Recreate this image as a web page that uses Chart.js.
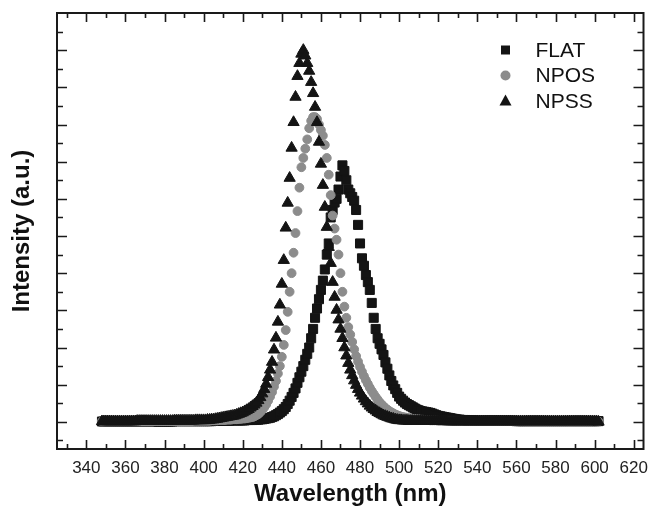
<!DOCTYPE html>
<html>
<head>
<meta charset="utf-8">
<script src="https://cdn.jsdelivr.net/npm/chart.js@4.4.1/dist/chart.umd.min.js"></script>
<style>
  body { margin: 0; background: #fff; }
  #spectra { display: block; }
</style>
</head>
<body>
<canvas id="spectra" width="651" height="513"></canvas>
<script>
// wavelength grid (nm), one point per nm
const wavelength = [
  348, 349,
  350, 351, 352, 353, 354, 355, 356, 357, 358, 359,
  360, 361, 362, 363, 364, 365, 366, 367, 368, 369,
  370, 371, 372, 373, 374, 375, 376, 377, 378, 379,
  380, 381, 382, 383, 384, 385, 386, 387, 388, 389,
  390, 391, 392, 393, 394, 395, 396, 397, 398, 399,
  400, 401, 402, 403, 404, 405, 406, 407, 408, 409,
  410, 411, 412, 413, 414, 415, 416, 417, 418, 419,
  420, 421, 422, 423, 424, 425, 426, 427, 428, 429,
  430, 431, 432, 433, 434, 435, 436, 437, 438, 439,
  440, 441, 442, 443, 444, 445, 446, 447, 448, 449,
  450, 451, 452, 453, 454, 455, 456, 457, 458, 459,
  460, 461, 462, 463, 464, 465, 466, 467, 468, 469,
  470, 471, 472, 473, 474, 475, 476, 477, 478, 479,
  480, 481, 482, 483, 484, 485, 486, 487, 488, 489,
  490, 491, 492, 493, 494, 495, 496, 497, 498, 499,
  500, 501, 502, 503, 504, 505, 506, 507, 508, 509,
  510, 511, 512, 513, 514, 515, 516, 517, 518, 519,
  520, 521, 522, 523, 524, 525, 526, 527, 528, 529,
  530, 531, 532, 533, 534, 535, 536, 537, 538, 539,
  540, 541, 542, 543, 544, 545, 546, 547, 548, 549,
  550, 551, 552, 553, 554, 555, 556, 557, 558, 559,
  560, 561, 562, 563, 564, 565, 566, 567, 568, 569,
  570, 571, 572, 573, 574, 575, 576, 577, 578, 579,
  580, 581, 582, 583, 584, 585, 586, 587, 588, 589,
  590, 591, 592, 593, 594, 595, 596, 597, 598, 599,
  600, 601, 602
]

const flat = [
  0.001, 0.001,
  0.001, 0.001, 0.001, 0.001, 0.001, 0.001, 0.001, 0.001, 0.001, 0.001,
  0.001, 0.001, 0.001, 0.001, 0.001, 0.001, 0.001, 0.001, 0.001, 0.001,
  0.001, 0.001, 0.001, 0.001, 0.001, 0.001, 0.001, 0.001, 0.001, 0.001,
  0.001, 0.001, 0.001, 0.001, 0.001, 0.002, 0.002, 0.002, 0.002, 0.002,
  0.002, 0.002, 0.002, 0.002, 0.002, 0.002, 0.002, 0.002, 0.002, 0.002,
  0.002, 0.002, 0.002, 0.002, 0.002, 0.003, 0.003, 0.003, 0.003, 0.003,
  0.003, 0.003, 0.003, 0.003, 0.004, 0.004, 0.004, 0.004, 0.004, 0.004,
  0.004, 0.004, 0.005, 0.005, 0.005, 0.005, 0.006, 0.006, 0.006, 0.007,
  0.007, 0.008, 0.009, 0.010, 0.011, 0.013, 0.015, 0.018, 0.021, 0.025,
  0.029, 0.034, 0.040, 0.048, 0.057, 0.067, 0.078, 0.090, 0.105, 0.120,
  0.135, 0.150, 0.167, 0.183, 0.200, 0.225, 0.250, 0.280, 0.305, 0.330,
  0.355, 0.380, 0.410, 0.450, 0.480, 0.550, 0.570, 0.590, 0.600, 0.625,
  0.660, 0.690, 0.675, 0.650, 0.625, 0.615, 0.605, 0.595, 0.570, 0.530,
  0.480, 0.440, 0.420, 0.395, 0.376, 0.355, 0.320, 0.280, 0.250, 0.225,
  0.210, 0.195, 0.180, 0.160, 0.143, 0.125, 0.110, 0.098, 0.088, 0.078,
  0.068, 0.062, 0.057, 0.052, 0.048, 0.045, 0.042, 0.039, 0.036, 0.033,
  0.031, 0.029, 0.028, 0.027, 0.026, 0.025, 0.024, 0.022, 0.020, 0.018,
  0.016, 0.015, 0.014, 0.013, 0.012, 0.011, 0.010, 0.009, 0.008, 0.007,
  0.006, 0.006, 0.005, 0.005, 0.005, 0.004, 0.004, 0.004, 0.004, 0.003,
  0.003, 0.003, 0.003, 0.003, 0.003, 0.003, 0.003, 0.003, 0.003, 0.003,
  0.003, 0.003, 0.003, 0.003, 0.003, 0.003, 0.003, 0.003, 0.003, 0.003,
  0.002, 0.002, 0.002, 0.002, 0.002, 0.002, 0.002, 0.002, 0.002, 0.002,
  0.002, 0.002, 0.002, 0.002, 0.002, 0.002, 0.002, 0.002, 0.002, 0.002,
  0.002, 0.002, 0.002, 0.002, 0.002, 0.002, 0.002, 0.002, 0.002, 0.002,
  0.002, 0.002, 0.002, 0.002, 0.002, 0.002, 0.002, 0.002, 0.002, 0.002,
  0.002, 0.002, 0.002
]

const npos = [
  0.001, 0.001,
  0.001, 0.001, 0.001, 0.001, 0.001, 0.001, 0.001, 0.001, 0.001, 0.001,
  0.001, 0.001, 0.001, 0.001, 0.001, 0.001, 0.001, 0.001, 0.001, 0.001,
  0.001, 0.001, 0.001, 0.001, 0.001, 0.002, 0.002, 0.002, 0.002, 0.002,
  0.002, 0.002, 0.002, 0.002, 0.002, 0.002, 0.002, 0.002, 0.002, 0.002,
  0.002, 0.002, 0.002, 0.002, 0.002, 0.003, 0.003, 0.003, 0.003, 0.003,
  0.003, 0.003, 0.003, 0.003, 0.004, 0.004, 0.004, 0.004, 0.005, 0.005,
  0.005, 0.005, 0.006, 0.006, 0.006, 0.007, 0.007, 0.007, 0.008, 0.008,
  0.009, 0.009, 0.010, 0.011, 0.012, 0.013, 0.015, 0.018, 0.021, 0.026,
  0.032, 0.039, 0.047, 0.057, 0.068, 0.080, 0.095, 0.110, 0.130, 0.150,
  0.175, 0.207, 0.247, 0.296, 0.350, 0.400, 0.455, 0.508, 0.567, 0.630,
  0.685, 0.710, 0.735, 0.760, 0.790, 0.810, 0.820, 0.820, 0.815, 0.800,
  0.785, 0.770, 0.745, 0.710, 0.665, 0.610, 0.555, 0.520, 0.490, 0.450,
  0.400, 0.350, 0.310, 0.280, 0.255, 0.235, 0.215, 0.195, 0.177, 0.162,
  0.148, 0.135, 0.123, 0.112, 0.102, 0.092, 0.083, 0.075, 0.067, 0.060,
  0.053, 0.047, 0.042, 0.037, 0.033, 0.029, 0.026, 0.023, 0.020, 0.018,
  0.016, 0.014, 0.013, 0.012, 0.011, 0.010, 0.009, 0.008, 0.008, 0.007,
  0.007, 0.006, 0.006, 0.005, 0.005, 0.005, 0.004, 0.004, 0.004, 0.004,
  0.003, 0.003, 0.003, 0.003, 0.003, 0.003, 0.003, 0.003, 0.003, 0.003,
  0.003, 0.003, 0.003, 0.003, 0.003, 0.002, 0.002, 0.002, 0.002, 0.002,
  0.002, 0.002, 0.002, 0.002, 0.002, 0.002, 0.002, 0.002, 0.002, 0.002,
  0.002, 0.002, 0.002, 0.002, 0.002, 0.002, 0.002, 0.002, 0.002, 0.002,
  0.002, 0.002, 0.002, 0.002, 0.002, 0.001, 0.001, 0.001, 0.001, 0.001,
  0.001, 0.001, 0.001, 0.001, 0.001, 0.001, 0.001, 0.001, 0.001, 0.001,
  0.001, 0.001, 0.001, 0.001, 0.001, 0.001, 0.001, 0.001, 0.001, 0.001,
  0.001, 0.001, 0.001, 0.001, 0.001, 0.001, 0.001, 0.001, 0.001, 0.001,
  0.001, 0.001, 0.001
]

const npss = [
  0.001, 0.001,
  0.001, 0.001, 0.001, 0.001, 0.001, 0.001, 0.001, 0.001, 0.001, 0.001,
  0.001, 0.001, 0.001, 0.001, 0.001, 0.001, 0.002, 0.002, 0.002, 0.002,
  0.002, 0.002, 0.002, 0.002, 0.002, 0.002, 0.002, 0.002, 0.002, 0.002,
  0.002, 0.002, 0.002, 0.002, 0.002, 0.003, 0.003, 0.003, 0.003, 0.003,
  0.003, 0.003, 0.003, 0.003, 0.003, 0.003, 0.004, 0.004, 0.004, 0.004,
  0.004, 0.004, 0.005, 0.005, 0.006, 0.006, 0.007, 0.008, 0.009, 0.010,
  0.011, 0.012, 0.013, 0.014, 0.015, 0.016, 0.017, 0.019, 0.021, 0.023,
  0.025, 0.028, 0.031, 0.034, 0.038, 0.042, 0.046, 0.051, 0.058, 0.066,
  0.076, 0.088, 0.102, 0.120, 0.140, 0.161, 0.194, 0.226, 0.269, 0.315,
  0.371, 0.435, 0.522, 0.589, 0.656, 0.737, 0.806, 0.874, 0.930, 0.965,
  0.990, 1.000, 0.985, 0.965, 0.944, 0.914, 0.884, 0.847, 0.806, 0.753,
  0.694, 0.637, 0.578, 0.524, 0.470, 0.427, 0.376, 0.336, 0.301, 0.275,
  0.250, 0.225, 0.200, 0.178, 0.158, 0.140, 0.125, 0.111, 0.099, 0.088,
  0.078, 0.070, 0.062, 0.055, 0.049, 0.043, 0.038, 0.034, 0.030, 0.026,
  0.023, 0.020, 0.017, 0.015, 0.013, 0.011, 0.009, 0.008, 0.006, 0.005,
  0.004, 0.004, 0.003, 0.003, 0.003, 0.002, 0.002, 0.002, 0.002, 0.002,
  0.002, 0.002, 0.002, 0.002, 0.002, 0.002, 0.002, 0.002, 0.002, 0.002,
  0.002, 0.002, 0.002, 0.002, 0.002, 0.001, 0.001, 0.001, 0.001, 0.001,
  0.001, 0.001, 0.001, 0.001, 0.001, 0.001, 0.001, 0.001, 0.001, 0.001,
  0.001, 0.001, 0.001, 0.001, 0.001, 0.001, 0.001, 0.001, 0.001, 0.001,
  0.001, 0.001, 0.001, 0.001, 0.001, 0.001, 0.001, 0.001, 0.001, 0.001,
  0.001, 0.001, 0.001, 0.001, 0.001, 0.001, 0.001, 0.001, 0.001, 0.001,
  0.001, 0.001, 0.001, 0.001, 0.001, 0.001, 0.001, 0.001, 0.001, 0.001,
  0.001, 0.001, 0.001, 0.001, 0.001, 0.001, 0.001, 0.001, 0.001, 0.001,
  0.001, 0.001, 0.001, 0.001, 0.001, 0.001, 0.001, 0.001, 0.001, 0.001,
  0.001, 0.001, 0.000
]

const seriesNames = ['FLAT', 'NPOS', 'NPSS']
const xTickLabels = [340, 360, 380, 400, 420, 440, 460, 480, 500, 520, 540, 560, 580, 600, 620]

const fontFamily = '"Liberation Sans", Arial, Helvetica, sans-serif'

function points(values) {
    return wavelength.map((w, i) => ({ x: w, y: values[i] }))
}

// frame with inward ticks on all four sides (like the Origin plot)
const frameTicks = {
    id: 'frameTicks',
    afterDraw(chart) {
        const { ctx, chartArea: a, scales: { x, y } } = chart
        ctx.save()
        ctx.strokeStyle = '#1a1a1a'
        ctx.lineWidth = 1.6
        ctx.beginPath()
        for (let v = 330; v <= 620; v += 10) {
            const px = Math.round(x.getPixelForValue(v)) + 0.5
            const len = v % 20 === 0 ? 9 : 5
            ctx.moveTo(px, a.bottom); ctx.lineTo(px, a.bottom - len)
            ctx.moveTo(px, a.top); ctx.lineTo(px, a.top + len)
        }
        for (let i = -1; i <= 21; i++) {
            const py = Math.round(y.getPixelForValue(i * 0.05)) + 0.5
            const len = i % 2 === 0 ? 10 : 6
            ctx.moveTo(a.left, py); ctx.lineTo(a.left + len, py)
            ctx.moveTo(a.right, py); ctx.lineTo(a.right - len, py)
        }
        ctx.stroke()
        ctx.lineWidth = 2
        ctx.strokeRect(a.left, a.top, a.right - a.left, a.bottom - a.top)
        ctx.restore()
    }
}

// legend drawn inside the plot, top right
const innerLegend = {
    id: 'innerLegend',
    afterDatasetsDraw(chart) {
        const { ctx, chartArea } = chart
        ctx.save()
        ctx.font = '21px ' + fontFamily
        ctx.textBaseline = 'middle'
        chart.data.datasets.forEach((ds, i) => {
            const mx = chartArea.right - 138
            const my = chartArea.top + 37 + i * 25.5
            ctx.fillStyle = ds.backgroundColor
            ctx.beginPath()
            if (ds.pointStyle === 'rect') {
                ctx.rect(mx - 4.5, my - 4.5, 9, 9)
            } else if (ds.pointStyle === 'circle') {
                ctx.arc(mx, my, 5, 0, Math.PI * 2)
            } else {
                ctx.moveTo(mx, my - 6.5)
                ctx.lineTo(mx + 6, my + 4.5)
                ctx.lineTo(mx - 6, my + 4.5)
                ctx.closePath()
            }
            ctx.fill()
            ctx.fillStyle = '#111'
            ctx.fillText(ds.label, mx + 30, my + 1)
        })
        ctx.restore()
    }
}

new Chart(document.querySelector('#spectra'), {
    type: 'scatter',
    data: {
        datasets: [{
            label: seriesNames[0],
            data: points(flat),
            pointStyle: 'rect',
            pointRadius: 6.4,
            borderWidth: 1,
            backgroundColor: '#141414',
            borderColor: '#141414',
            order: 3
        }, {
            label: seriesNames[1],
            data: points(npos),
            pointStyle: 'circle',
            pointRadius: 4.4,
            borderWidth: 1,
            backgroundColor: '#8c8c8c',
            borderColor: '#8c8c8c',
            order: 2
        }, {
            label: seriesNames[2],
            data: points(npss),
            pointStyle: 'triangle',
            pointRadius: 6.5,
            borderWidth: 1,
            backgroundColor: '#141414',
            borderColor: '#141414',
            order: 1
        }]
    },
    options: {
        responsive: false,
        animation: false,
        layout: { padding: { top: 13, right: 6, left: 0, bottom: 0 } },
        plugins: {
            legend: { display: false },
            tooltip: { enabled: false }
        },
        scales: {
            x: {
                type: 'linear',
                min: 325,
                max: 625,
                afterBuildTicks: scale => {
                    scale.ticks = xTickLabels.map(v => ({ value: v }))
                },
                afterFit: scale => {
                    // the 620 label may hang over the edge, don't shrink the plot for it
                    scale.height = 64
                    scale.paddingLeft = 0
                    scale.paddingRight = 0
                },
                grid: { display: false, drawTicks: false },
                border: { display: false },
                ticks: {
                    padding: 9,
                    color: '#222',
                    maxRotation: 0,
                    font: { family: fontFamily, size: 17 }
                },
                title: {
                    display: true,
                    text: 'Wavelength (nm)',
                    color: '#111',
                    padding: { top: 4, bottom: 4 },
                    font: { family: fontFamily, size: 24, weight: 'bold' }
                }
            },
            y: {
                min: -0.073,
                max: 1.1,
                afterFit: scale => { scale.width = 57 },
                grid: { display: false, drawTicks: false },
                border: { display: false },
                ticks: { display: false },
                title: {
                    display: true,
                    text: 'Intensity (a.u.)',
                    color: '#111',
                    padding: { top: 8, bottom: 4 },
                    font: { family: fontFamily, size: 24, weight: 'bold' }
                }
            }
        }
    },
    plugins: [frameTicks, innerLegend]
})
</script>
</body>
</html>
